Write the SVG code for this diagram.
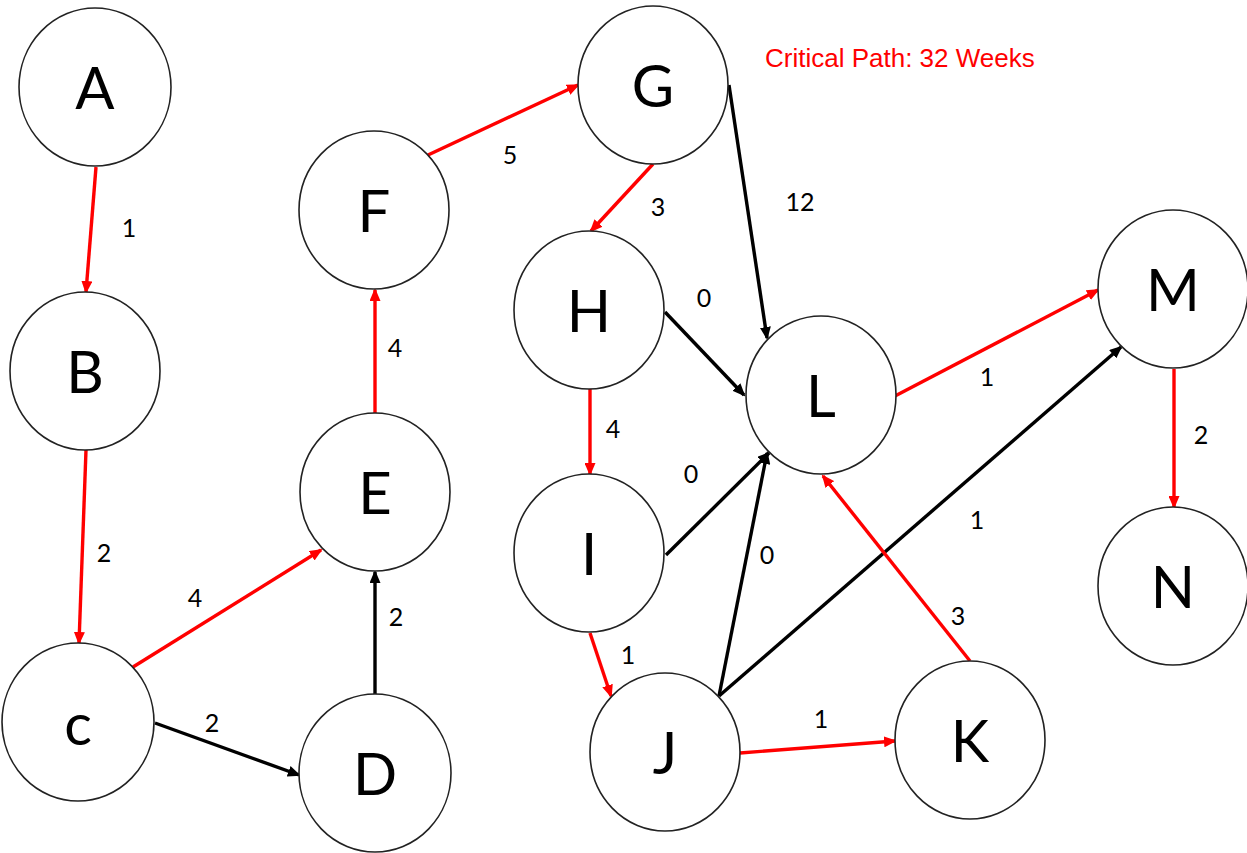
<svg xmlns="http://www.w3.org/2000/svg" width="1247" height="853" viewBox="0 0 1247 853">
<defs>
<style>
.node ellipse{fill:#fff;stroke:#222;stroke-width:1.6}
.node text{font-family:Lato,"Open Sans","Liberation Sans",sans-serif;font-size:58px;fill:#000;text-anchor:middle}
.e{stroke-width:3.4;fill:none}
.r{stroke:#ff0000}
.b{stroke:#000}
.lbl{font-family:Lato,"Open Sans","Liberation Sans",sans-serif;font-size:25px;fill:#000;text-anchor:middle}
.title{font-family:"Liberation Sans",Arial,sans-serif;font-size:26px;fill:#ff0000}
</style>
<marker id="ar" viewBox="0 0 13 11" refX="11" refY="5.5" markerWidth="13" markerHeight="11" markerUnits="userSpaceOnUse" orient="auto"><path d="M0,0 L13,5.5 L0,11 z" fill="#ff0000"/></marker>
<marker id="ab" viewBox="0 0 13 11" refX="11" refY="5.5" markerWidth="13" markerHeight="11" markerUnits="userSpaceOnUse" orient="auto"><path d="M0,0 L13,5.5 L0,11 z" fill="#000"/></marker>
</defs>
<rect width="1247" height="853" fill="#fff"/>
<g id="connectors">
<line class="e r" x1="96" y1="167" x2="86" y2="292" marker-end="url(#ar)"/>
<line class="e r" x1="86" y1="450" x2="79" y2="643" marker-end="url(#ar)"/>
<line class="e r" x1="133" y1="667" x2="321" y2="550" marker-end="url(#ar)"/>
<line class="e b" x1="155" y1="723" x2="299" y2="775" marker-end="url(#ab)"/>
<line class="e b" x1="375" y1="695" x2="375" y2="572" marker-end="url(#ab)"/>
<line class="e r" x1="375" y1="413" x2="375" y2="290" marker-end="url(#ar)"/>
<line class="e r" x1="428" y1="155" x2="578" y2="85" marker-end="url(#ar)"/>
<line class="e r" x1="653" y1="164" x2="591" y2="231" marker-end="url(#ar)"/>
<line class="e b" x1="729" y1="85" x2="767" y2="338" marker-end="url(#ab)"/>
<line class="e b" x1="665" y1="312" x2="744" y2="395" marker-end="url(#ab)"/>
<line class="e r" x1="590" y1="389" x2="590" y2="474" marker-end="url(#ar)"/>
<line class="e b" x1="666" y1="555" x2="769" y2="453" marker-end="url(#ab)"/>
<line class="e b" x1="719" y1="696" x2="767" y2="453" marker-end="url(#ab)"/>
<line class="e b" x1="719" y1="696" x2="1121" y2="347" marker-end="url(#ab)"/>
<line class="e r" x1="970" y1="661" x2="823" y2="476" marker-end="url(#ar)"/>
<line class="e r" x1="590" y1="633" x2="611" y2="696" marker-end="url(#ar)"/>
<line class="e r" x1="740" y1="753" x2="895" y2="741" marker-end="url(#ar)"/>
<line class="e r" x1="895" y1="396" x2="1098" y2="290" marker-end="url(#ar)"/>
<line class="e r" x1="1174" y1="369" x2="1174" y2="507" marker-end="url(#ar)"/>
<text class="lbl" x="129" y="237">1</text>
<text class="lbl" x="104" y="562">2</text>
<text class="lbl" x="195" y="607">4</text>
<text class="lbl" x="212" y="732">2</text>
<text class="lbl" x="396" y="626">2</text>
<text class="lbl" x="395" y="357">4</text>
<text class="lbl" x="510" y="164">5</text>
<text class="lbl" x="658" y="216">3</text>
<text class="lbl" x="800" y="211">12</text>
<text class="lbl" x="704" y="307">0</text>
<text class="lbl" x="613" y="438">4</text>
<text class="lbl" x="691" y="483">0</text>
<text class="lbl" x="767" y="564">0</text>
<text class="lbl" x="977" y="529">1</text>
<text class="lbl" x="958" y="625">3</text>
<text class="lbl" x="628" y="664">1</text>
<text class="lbl" x="821" y="728">1</text>
<text class="lbl" x="987" y="386">1</text>
<text class="lbl" x="1201" y="444">2</text>
</g>
<g id="A" class="node"><ellipse cx="95" cy="87" rx="76" ry="79"/><text x="95" y="109">A</text></g>
<g id="B" class="node"><ellipse cx="85" cy="371" rx="75" ry="79"/><text x="85" y="393">B</text></g>
<g id="C" class="node"><ellipse cx="78" cy="722" rx="76" ry="79"/><text x="78" y="745">c</text></g>
<g id="D" class="node"><ellipse cx="375" cy="773" rx="76" ry="79"/><text x="375" y="795">D</text></g>
<g id="E" class="node"><ellipse cx="375" cy="492" rx="75" ry="79"/><text x="375" y="514">E</text></g>
<g id="F" class="node"><ellipse cx="374" cy="210" rx="75" ry="79"/><text x="374" y="232">F</text></g>
<g id="G" class="node"><ellipse cx="653" cy="85" rx="75" ry="79"/><text x="653" y="107">G</text></g>
<g id="H" class="node"><ellipse cx="589" cy="310" rx="75" ry="79"/><text x="589" y="332">H</text></g>
<g id="I" class="node"><ellipse cx="589" cy="553" rx="75" ry="79"/><text x="589" y="575">I</text></g>
<g id="J" class="node"><ellipse cx="665" cy="752" rx="75" ry="79"/><text x="665" y="774">J</text></g>
<g id="K" class="node"><ellipse cx="970" cy="740" rx="75" ry="79"/><text x="970" y="762">K</text></g>
<g id="L" class="node"><ellipse cx="821" cy="395" rx="75" ry="79"/><text x="821" y="417">L</text></g>
<g id="M" class="node"><ellipse cx="1173" cy="289" rx="75" ry="79"/><text x="1173" y="311">M</text></g>
<g id="N" class="node"><ellipse cx="1173" cy="586" rx="75" ry="79"/><text x="1173" y="608">N</text></g>
<text class="title" x="765" y="67">Critical Path: 32 Weeks</text>
</svg>
